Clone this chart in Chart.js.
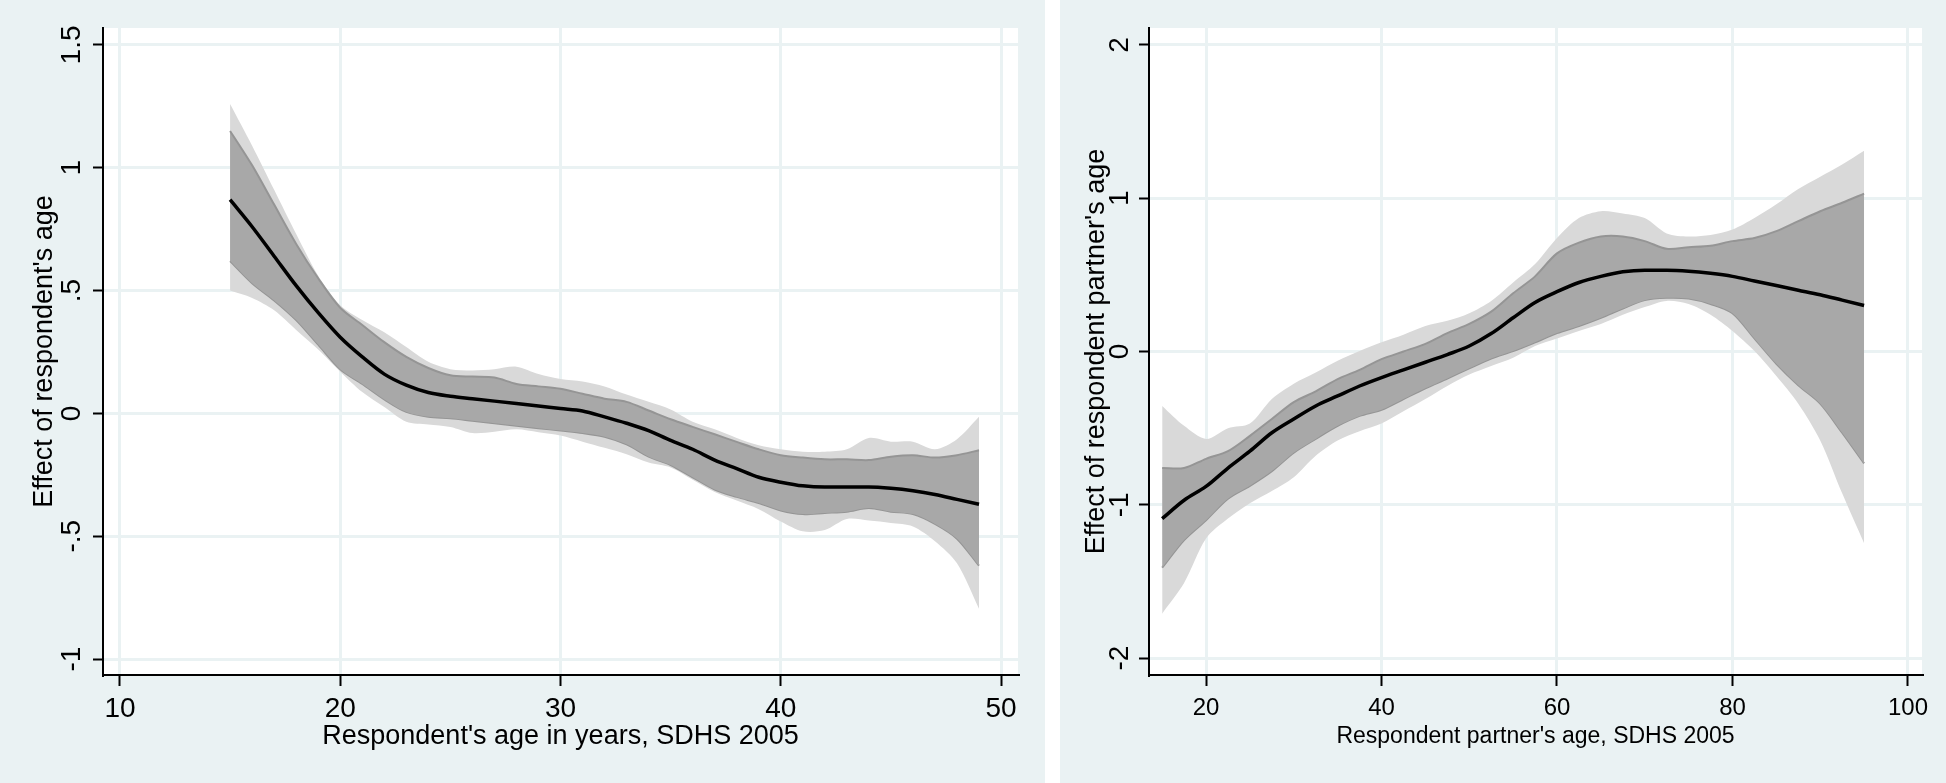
<!DOCTYPE html>
<html lang="en">
<head>
<meta charset="UTF-8">
<title>Effect of respondent's and partner's age, SDHS 2005</title>
<script src="https://cdn.jsdelivr.net/npm/chart.js@4.4.1/dist/chart.umd.min.js"></script>
<style>
    html, body { margin: 0; padding: 0; background: #ffffff; }
    body { width: 1946px; height: 783px; position: relative; overflow: hidden; }
    .panel { position: absolute; top: 0; height: 783px; background: #eaf2f3; }
    .panel canvas { display: block; }
    #leftPanel { left: 0; width: 1045px; }
    #rightPanel { left: 1060px; width: 886px; }
</style>
</head>
<body>
<div class="panel" id="leftPanel"><canvas id="leftChart" width="1045" height="783"></canvas></div>
<div class="panel" id="rightPanel"><canvas id="rightChart" width="886" height="783"></canvas></div>

<script>
// left panel: respondent's age (15-49)
const leftAge = [15, 16, 17, 18, 19, 20, 21, 22, 23, 24, 25, 26, 27, 28, 29, 30, 31, 32,
                 33, 34, 35, 36, 37, 38, 39, 40, 41, 42, 43, 44, 45, 46, 47, 48, 49];
const leftFit = [0.87, 0.76, 0.64, 0.52, 0.41, 0.31, 0.23, 0.16, 0.115, 0.085, 0.07, 0.06, 0.05, 0.04, 0.03, 0.02, 0.01, -0.014,
                 -0.04, -0.07, -0.11, -0.146, -0.19, -0.225, -0.26, -0.28, -0.295, -0.30, -0.30, -0.30, -0.305, -0.315, -0.33, -0.35, -0.37];
const leftInnerHi = [1.15, 1.01, 0.85, 0.69, 0.55, 0.43, 0.36, 0.29, 0.23, 0.185, 0.155, 0.15, 0.146, 0.12, 0.11, 0.10, 0.08, 0.06,
                     0.047, 0.012, -0.024, -0.055, -0.085, -0.116, -0.146, -0.17, -0.18, -0.187, -0.187, -0.19, -0.176, -0.17, -0.18, -0.17, -0.15];
const leftInnerLo = [0.62, 0.53, 0.46, 0.38, 0.28, 0.18, 0.12, 0.057, 0.006, -0.014, -0.02, -0.03, -0.04, -0.05, -0.06, -0.07, -0.08, -0.095,
                     -0.126, -0.176, -0.21, -0.26, -0.31, -0.34, -0.365, -0.395, -0.41, -0.405, -0.40, -0.385, -0.40, -0.41, -0.45, -0.51, -0.62];
const leftOuterHi = [1.26, 1.09, 0.91, 0.73, 0.56, 0.44, 0.38, 0.33, 0.27, 0.21, 0.18, 0.175, 0.18, 0.19, 0.16, 0.14, 0.13, 0.11,
                     0.077, 0.047, 0.016, -0.034, -0.065, -0.10, -0.13, -0.146, -0.156, -0.156, -0.146, -0.10, -0.115, -0.115, -0.146, -0.105, -0.014];
const leftOuterLo = [0.50, 0.47, 0.42, 0.34, 0.26, 0.17, 0.087, 0.026, -0.034, -0.045, -0.055, -0.08, -0.075, -0.065, -0.077, -0.09, -0.115, -0.14,
                     -0.166, -0.20, -0.22, -0.27, -0.32, -0.355, -0.39, -0.44, -0.48, -0.475, -0.43, -0.436, -0.446, -0.46, -0.52, -0.61, -0.795];
const leftXTicks = [10, 20, 30, 40, 50];
const leftYTicks = [-1, -0.5, 0, 0.5, 1, 1.5];
const leftYLabels = ['-1', '-.5', '0', '.5', '1', '1.5'];

// right panel: respondent partner's age (15-95)
const rightAge = [15, 17.5, 20, 22.5, 25, 27.5, 30, 32.5, 35, 37.5, 40, 42.5, 45, 47.5, 50, 52.5, 55,
                  57.5, 60, 62.5, 65, 67.5, 70, 72.5, 75, 77.5, 80, 82.5, 85, 87.5, 90, 92.5, 95];
const rightFit = [-1.09, -0.97, -0.88, -0.76, -0.65, -0.53, -0.44, -0.355, -0.29, -0.225, -0.17, -0.12, -0.07, -0.02, 0.036, 0.117, 0.22,
                  0.32, 0.39, 0.45, 0.49, 0.52, 0.53, 0.53, 0.524, 0.51, 0.49, 0.46, 0.43, 0.40, 0.37, 0.335, 0.30];
const rightInnerHi = [-0.76, -0.76, -0.70, -0.65, -0.55, -0.44, -0.33, -0.26, -0.18, -0.12, -0.05, 0.00, 0.05, 0.12, 0.18, 0.26, 0.38,
                      0.49, 0.64, 0.71, 0.75, 0.75, 0.72, 0.67, 0.68, 0.69, 0.72, 0.74, 0.785, 0.85, 0.915, 0.97, 1.03];
const rightInnerLo = [-1.41, -1.23, -1.10, -0.96, -0.876, -0.78, -0.66, -0.57, -0.485, -0.42, -0.38, -0.31, -0.24, -0.176, -0.11, -0.046, 0.003,
                      0.06, 0.12, 0.166, 0.22, 0.28, 0.335, 0.35, 0.345, 0.31, 0.25, 0.085, -0.08, -0.22, -0.34, -0.53, -0.73];
const rightOuterHi = [-0.355, -0.485, -0.57, -0.50, -0.47, -0.31, -0.21, -0.137, -0.06, 0.003, 0.06, 0.11, 0.166, 0.20, 0.25, 0.33, 0.45,
                      0.57, 0.74, 0.87, 0.915, 0.90, 0.87, 0.77, 0.75, 0.76, 0.795, 0.87, 0.96, 1.06, 1.14, 1.22, 1.31];
const rightOuterLo = [-1.71, -1.51, -1.22, -1.09, -0.99, -0.91, -0.82, -0.68, -0.58, -0.52, -0.47, -0.39, -0.31, -0.225, -0.15, -0.094, -0.04,
                      0.036, 0.085, 0.134, 0.18, 0.24, 0.29, 0.33, 0.31, 0.24, 0.134, 0.003, -0.16, -0.34, -0.58, -0.925, -1.25];
const rightXTicks = [20, 40, 60, 80, 100];
const rightYTicks = [-2, -1, 0, 1, 2];
const rightYLabels = ['-2', '-1', '0', '1', '2'];

const BG = '#eaf2f3';
const FONT = "'Liberation Sans', Arial, sans-serif";

// white plot region behind the grid
const plotRegion = {
    id: 'plotRegion',
    beforeDraw(chart) {
        const a = chart.chartArea;
        chart.ctx.save();
        chart.ctx.fillStyle = '#ffffff';
        chart.ctx.fillRect(a.left, a.top, a.right - a.left, a.bottom - a.top);
        chart.ctx.restore();
    }
};

function pts(xs, ys) {
    return xs.map((x, i) => ({ x: x, y: ys[i] }));
}

function makePanel(id, p) {
    const band = (data, fill, color, edge, order) => ({
        data: data, fill: fill, backgroundColor: color, borderColor: edge,
        borderWidth: edge ? 2 : 0, pointRadius: 0, tension: 0.3, order: order
    });
    new Chart(document.getElementById(id), {
        type: 'line',
        data: {
            datasets: [
                band(pts(p.x, p.outerHi), '+1', '#d9d9d9', null, 3),
                band(pts(p.x, p.outerLo), false, '#d9d9d9', null, 3),
                band(pts(p.x, p.innerHi), '+1', '#a8a8a8', '#959595', 2),
                band(pts(p.x, p.innerLo), false, '#a8a8a8', '#959595', 2),
                {
                    data: pts(p.x, p.fit), borderColor: '#000000', borderWidth: 3.5,
                    pointRadius: 0, fill: false, cubicInterpolationMode: 'monotone', order: 1
                }
            ]
        },
        options: {
            responsive: false,
            animation: false,
            layout: { padding: { top: 28, right: p.padRight, left: 0, bottom: 0 } },
            plugins: { legend: { display: false }, tooltip: { enabled: false } },
            scales: {
                x: {
                    type: 'linear', min: p.xMin, max: p.xMax,
                    afterBuildTicks: s => { s.ticks = p.xTicks.map(v => ({ value: v })); },
                    afterFit: s => { s.height = 108; },
                    grid: { color: BG, lineWidth: 3, tickColor: '#000000', tickLength: 11, tickWidth: 2 },
                    border: { display: true, color: '#000000', width: 2 },
                    ticks: { color: '#000000', padding: p.xTickPad, font: { family: FONT, size: p.xTickSize } },
                    title: {
                        display: true, text: p.xTitle, color: '#000000',
                        font: { family: FONT, size: p.xTitleSize }, padding: { top: 0, bottom: p.xTitlePad }
                    }
                },
                y: {
                    type: 'linear', min: p.yMin, max: p.yMax,
                    afterBuildTicks: s => { s.ticks = p.yTicks.map(v => ({ value: v })); },
                    afterFit: s => { s.width = p.yWidth; },
                    grid: { color: BG, lineWidth: 3, tickColor: '#000000', tickLength: 10, tickWidth: 2 },
                    border: { display: true, color: '#000000', width: 2 },
                    ticks: {
                        color: '#000000', padding: p.yPad, minRotation: 90, maxRotation: 90,
                        crossAlign: 'center', font: { family: FONT, size: 28 },
                        callback: (v, i) => p.yLabels[i]
                    },
                    title: {
                        display: true, text: p.yTitle, color: '#000000',
                        font: { family: FONT, size: 27 }, padding: { top: p.yTitlePad, bottom: 0 }
                    }
                }
            }
        },
        plugins: [plotRegion]
    });
}

makePanel('leftChart', {
    x: leftAge, fit: leftFit, innerHi: leftInnerHi, innerLo: leftInnerLo,
    outerHi: leftOuterHi, outerLo: leftOuterLo,
    xTicks: leftXTicks, yTicks: leftYTicks, yLabels: leftYLabels,
    xMin: 9.23, xMax: 50.77, yMin: -1.065, yMax: 1.569,
    yWidth: 103, padRight: 27, yPad: 1, yTitlePad: 28,
    xTickSize: 28, xTickPad: 6, xTitleSize: 27, xTitlePad: 30,
    xTitle: "Respondent's age in years, SDHS 2005",
    yTitle: "Effect of respondent's age"
});

// the right graph is squeezed sideways in the original, so its x texts are smaller
makePanel('rightChart', {
    x: rightAge, fit: rightFit, innerHi: rightInnerHi, innerLo: rightInnerLo,
    outerHi: rightOuterHi, outerLo: rightOuterLo,
    xTicks: rightXTicks, yTicks: rightYTicks, yLabels: rightYLabels,
    xMin: 13.5, xMax: 101.6, yMin: -2.11, yMax: 2.11,
    yWidth: 89, padRight: 24, yPad: 6, yTitlePad: 20,
    xTickSize: 24, xTickPad: 8, xTitleSize: 23, xTitlePad: 33,
    xTitle: "Respondent partner's age, SDHS 2005",
    yTitle: "Effect of respondent partner's age"
});
</script>
</body>
</html>
